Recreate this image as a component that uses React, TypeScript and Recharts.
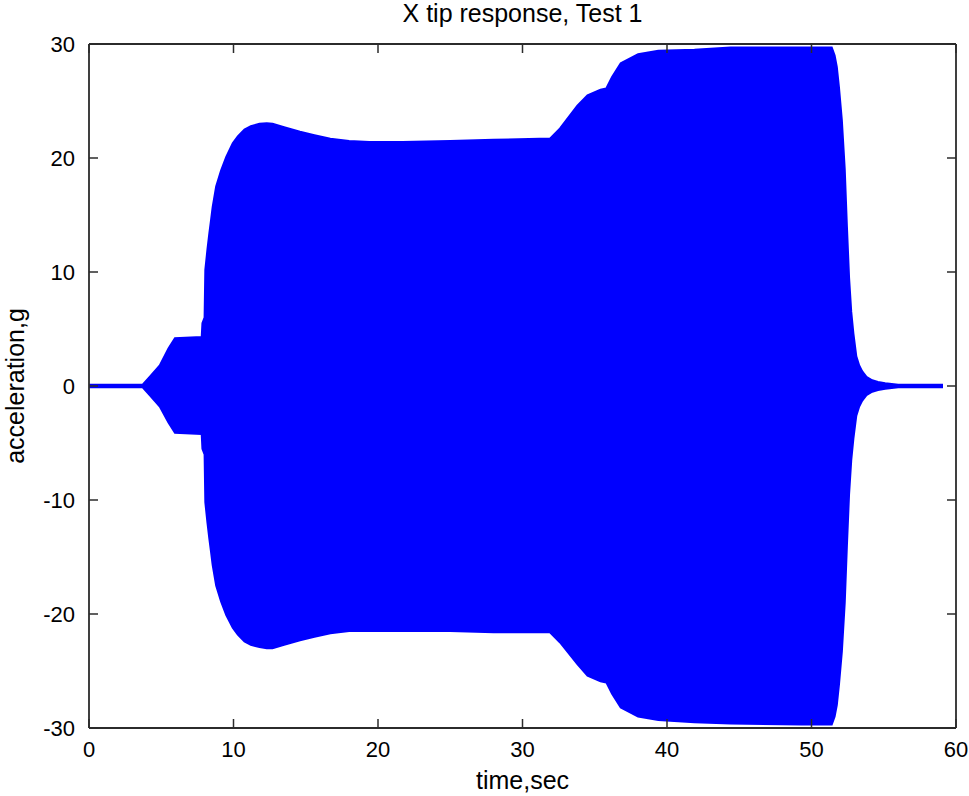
import { AreaChart, Area, XAxis, YAxis, ReferenceLine, Label } from "recharts";

const timeSec = [
  0, 3.7, 4.2, 4.9, 5.5, 5.95, 7.8, 7.85, 8.0, 8.05, 8.2, 8.33, 8.45, 8.56, 8.8,
  9.14, 9.5, 9.95, 10.3, 10.76, 11.2, 11.8, 12.3, 12.7, 13.5, 14.6, 15.6, 16.7,
  18, 19.4, 21.7, 25, 28, 31.9, 32.6, 33.8, 34.5, 35.4, 35.8, 36.2, 36.8, 38.0,
  39.4, 41.9, 44.4, 49.3, 51.4, 51.6, 51.75, 51.9, 52.1, 52.3, 52.45, 52.6,
  52.75, 52.9, 53.1, 53.3, 53.5, 53.8, 54.2, 54.6, 55.1, 56, 59.1,
];

const upperG = [
  0.1, 0.1, 0.8, 1.8, 3.3, 4.2, 4.3, 5.5, 6.0, 10.2, 12.0, 13.4, 14.6, 15.7,
  17.5, 18.9, 20.1, 21.3, 21.9, 22.5, 22.8, 23.0, 23.05, 23.0, 22.7, 22.3, 22.0,
  21.7, 21.5, 21.4, 21.4, 21.5, 21.6, 21.7, 22.6, 24.6, 25.5, 26.0, 26.1, 27.1,
  28.3, 29.1, 29.4, 29.5, 29.7, 29.7, 29.7, 29.0, 28.0, 26.2, 23.3, 19.0, 14.0,
  9.5, 6.5, 4.6, 2.6, 1.8, 1.3, 0.8, 0.5, 0.35, 0.25, 0.12, 0.1,
];

const lowerG = [
  -0.1, -0.1, -0.8, -1.8, -3.2, -4.1, -4.2, -5.5, -6.0, -10.2, -12.0, -13.4,
  -14.6, -15.7, -17.5, -18.9, -20.1, -21.2, -21.8, -22.4, -22.7, -22.9, -23.0,
  -23.0, -22.7, -22.3, -22.0, -21.7, -21.5, -21.5, -21.5, -21.5, -21.6, -21.6,
  -22.5, -24.4, -25.4, -25.9, -26.0, -27.0, -28.2, -29.0, -29.3, -29.5, -29.6,
  -29.7, -29.7, -29.0, -28.0, -26.2, -23.3, -19.0, -14.0, -9.5, -6.5, -4.6,
  -2.6, -1.8, -1.3, -0.8, -0.5, -0.35, -0.25, -0.12, -0.1,
];

const xTicks = [0, 10, 20, 30, 40, 50, 60];
const yTicks = [-30, -20, -10, 0, 10, 20, 30];

const W = 969;
const H = 796;
const margin = { top: 44, right: 13, left: 0, bottom: 0 };
const Y_AXIS_W = 89;
const X_AXIS_H = 68;
const PLOT_W = W - margin.left - margin.right - Y_AXIS_W;
const PLOT_H = H - margin.top - margin.bottom - X_AXIS_H;
const TICK_LEN = 9;
const FONT = "Arial, 'Liberation Sans', Helvetica, sans-serif";
const FRAME = "#2b2b2b";

const data = timeSec.map((t, i) => ({ t, band: [lowerG[i], upperG[i]] }));

function XTick(props: any) {
  const { x, y, payload } = props;
  return (
    <g>
      <line x1={x} y1={y} x2={x} y2={y - TICK_LEN} stroke={FRAME} strokeWidth={1.5} />
      <line
        x1={x}
        y1={y - PLOT_H}
        x2={x}
        y2={y - PLOT_H + TICK_LEN}
        stroke={FRAME}
        strokeWidth={1.5}
      />
      <text x={x} y={y + 29} textAnchor="middle" fontSize={22} fontFamily={FONT} fill="#000">
        {payload.value}
      </text>
    </g>
  );
}

function YTick(props: any) {
  const { x, y, payload } = props;
  return (
    <g>
      <line x1={x} y1={y} x2={x + TICK_LEN} y2={y} stroke={FRAME} strokeWidth={1.5} />
      <line
        x1={x + PLOT_W}
        y1={y}
        x2={x + PLOT_W - TICK_LEN}
        y2={y}
        stroke={FRAME}
        strokeWidth={1.5}
      />
      <text x={x - 14} y={y + 8} textAnchor="end" fontSize={22} fontFamily={FONT} fill="#000">
        {payload.value}
      </text>
    </g>
  );
}

export default function App() {
  return (
    <div style={{ position: "absolute", left: 0, top: 0, width: W, height: H, background: "#fff" }}>
      <div
        style={{
          position: "absolute",
          left: margin.left + Y_AXIS_W,
          top: 1,
          width: PLOT_W,
          textAlign: "center",
          fontFamily: FONT,
          fontSize: 25,
          lineHeight: "25px",
          color: "#000",
        }}
      >
        X tip response, Test 1
      </div>
      <AreaChart width={W} height={H} data={data} margin={margin}>
        <XAxis
          dataKey="t"
          type="number"
          domain={[0, 60]}
          ticks={xTicks}
          height={X_AXIS_H}
          tickSize={0}
          tickMargin={0}
          tickLine={false}
          tick={<XTick />}
          axisLine={{ stroke: FRAME, strokeWidth: 1.8 }}
          interval={0}
        >
          <Label
            content={({ viewBox }: any) => (
              <text
                x={viewBox.x + viewBox.width / 2}
                y={viewBox.y + 61}
                textAnchor="middle"
                fontSize={25}
                fontFamily={FONT}
                fill="#000"
              >
                time,sec
              </text>
            )}
          />
        </XAxis>
        <YAxis
          type="number"
          domain={[-30, 30]}
          ticks={yTicks}
          width={Y_AXIS_W}
          tickSize={0}
          tickMargin={0}
          tickLine={false}
          tick={<YTick />}
          axisLine={{ stroke: FRAME, strokeWidth: 1.8 }}
          interval={0}
        >
          <Label
            content={({ viewBox }: any) => {
              const cx = 15;
              const cy = viewBox.y + viewBox.height / 2;
              return (
                <text
                  x={cx}
                  y={cy}
                  transform={`rotate(-90 ${cx} ${cy})`}
                  textAnchor="middle"
                  dominantBaseline="central"
                  fontSize={25}
                  fontFamily={FONT}
                  fill="#000"
                >
                  acceleration,g
                </text>
              );
            }}
          />
        </YAxis>
        <Area
          type="linear"
          dataKey="band"
          stroke="#0000ff"
          strokeWidth={2}
          fill="#0000ff"
          fillOpacity={1}
          dot={false}
          activeDot={false}
          isAnimationActive={false}
        />
        <ReferenceLine y={30} stroke={FRAME} strokeWidth={1.8} />
        <ReferenceLine x={60} stroke={FRAME} strokeWidth={1.8} />
      </AreaChart>
    </div>
  );
}
